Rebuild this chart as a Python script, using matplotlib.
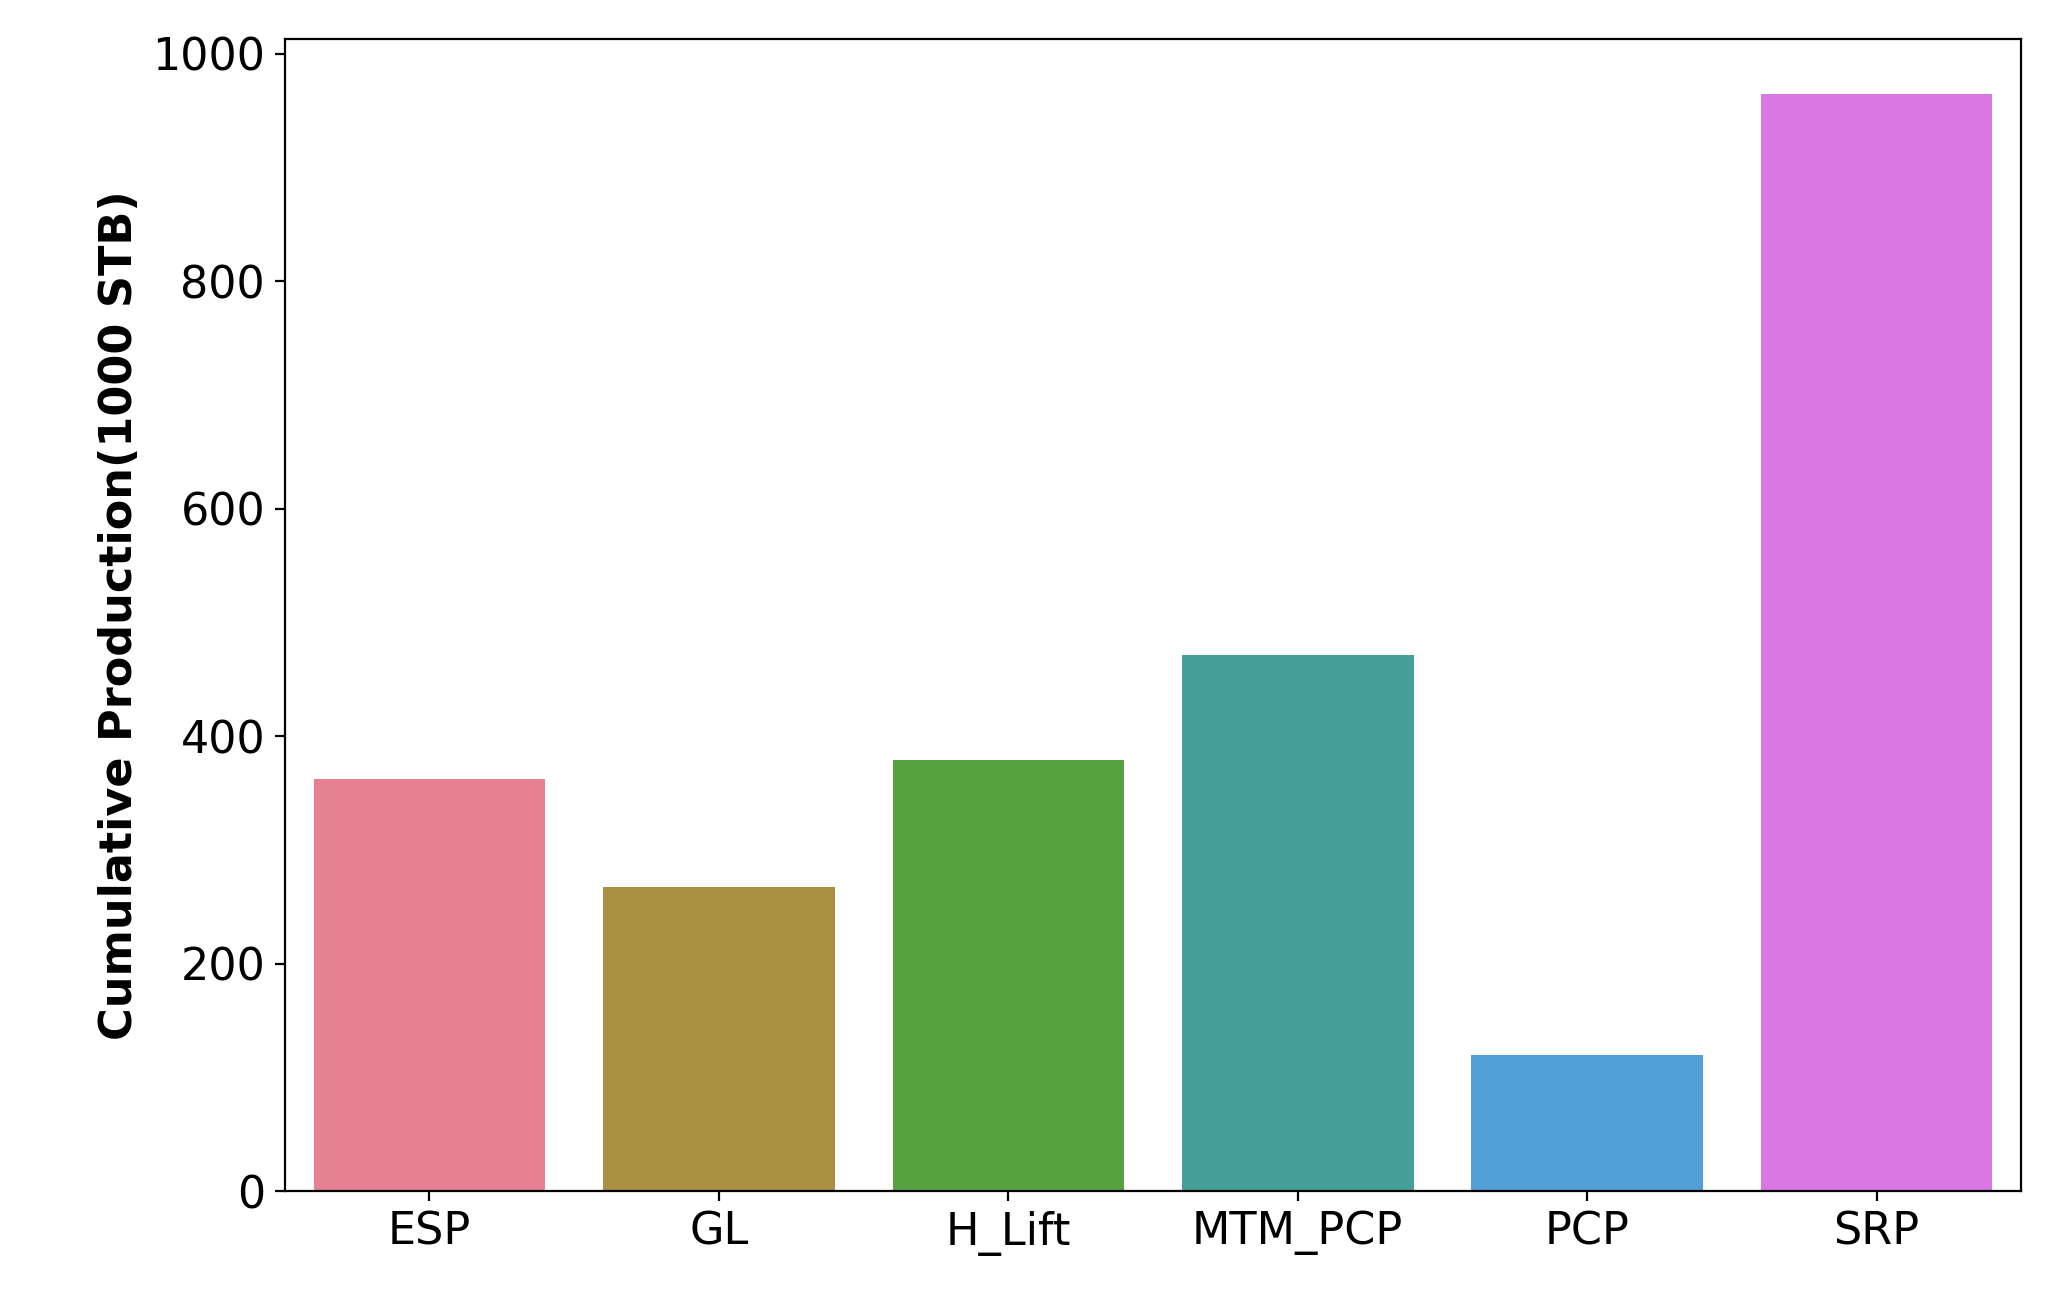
import matplotlib
matplotlib.use('Agg')
import matplotlib.pyplot as plt
import seaborn as sns

methods = ['ESP', 'GL', 'H_Lift', 'MTM_PCP', 'PCP', 'SRP']
production = [362, 267, 379, 471, 120, 965]

colors = sns.color_palette('husl', len(methods))
colors = [sns.desaturate(c, 0.75) for c in colors]

fig, ax = plt.subplots(figsize=(10.24, 6.495), dpi=200)
fig.subplots_adjust(left=0.139, right=0.987, top=0.97, bottom=0.083)
ax.bar(methods, production, color=colors, width=0.8)
ax.set_xlim(-0.5, len(methods) - 0.5)
ax.set_ylim(0, 1013)
ax.set_ylabel('Cumulative Production(1000 STB)', fontsize=16, fontweight='bold')
ax.tick_params(labelsize=16)
fig.savefig('out.png')
